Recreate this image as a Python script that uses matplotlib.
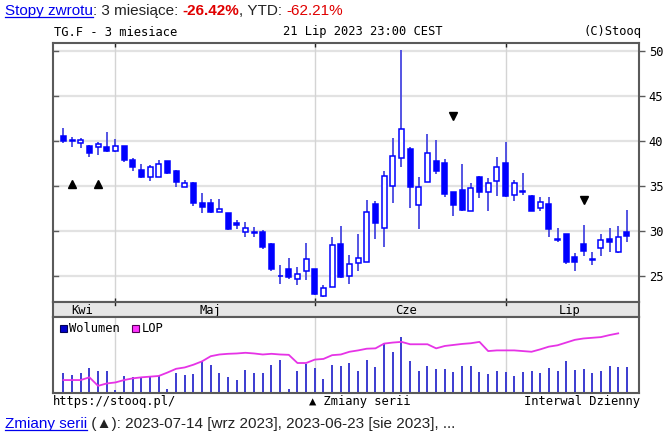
import numpy as np
import pandas as pd
import matplotlib
matplotlib.use("Agg")
import matplotlib.pyplot as plt
from matplotlib.patches import Rectangle
from matplotlib.lines import Line2D
import matplotlib.transforms as mtransforms

# ---------------- data ----------------
dates = pd.bdate_range("2023-04-21", "2023-07-21")

opens = [40.5, 40.1, 39.75, 39.45, 39.3, 39.3, 38.9, 39.45, 37.9, 36.8,
         36.05, 36.0, 37.75, 36.7, 34.95, 35.3, 33.1, 33.1, 32.1, 32.05,
         30.9, 29.95, 29.9, 29.9, 28.6, 25.1, 25.8, 24.7, 25.55, 25.8,
         22.85, 23.85, 28.6, 25.0, 26.5, 26.65, 33.05, 30.35, 35.0, 38.1,
         39.1, 32.95, 35.5, 37.8, 37.6, 34.3, 34.55, 32.3, 36.05, 34.3,
         35.6, 37.6, 34.0, 34.5, 33.9, 32.6, 33.05, 29.1, 29.7, 27.2,
         28.6, 26.95, 28.1, 29.2, 27.7, 29.95]
highs = [41.4, 40.4, 40.3, 39.5, 39.9, 40.95, 40.2, 39.45, 38.1, 37.5,
         37.35, 37.9, 37.75, 36.8, 35.7, 35.5, 34.2, 33.6, 33.6, 32.05,
         31.25, 31.0, 30.5, 30.15, 28.75, 26.25, 27.0, 26.0, 28.75, 25.8,
         24.05, 29.4, 30.6, 27.4, 29.7, 33.45, 33.3, 36.7, 40.3, 50.05,
         39.3, 36.05, 40.75, 40.1, 38.05, 34.4, 37.5, 35.4, 36.15, 35.85,
         38.2, 39.85, 35.7, 36.4, 34.0, 33.85, 33.85, 30.4, 29.7, 27.65,
         30.7, 27.75, 29.65, 30.35, 30.6, 32.4]
lows = [39.8, 39.3, 39.25, 38.2, 38.4, 38.8, 38.8, 37.7, 36.7, 35.95,
        35.6, 36.0, 36.35, 34.95, 34.85, 32.8, 32.05, 32.0, 32.1, 30.15,
        30.2, 29.35, 29.4, 28.05, 25.55, 24.15, 24.7, 24.0, 24.6, 22.95,
        22.75, 23.85, 24.8, 24.15, 25.55, 26.65, 29.1, 28.25, 33.15, 37.1,
        32.55, 30.2, 35.5, 36.35, 33.75, 31.7, 32.3, 32.2, 33.65, 32.3,
        33.95, 33.85, 33.3, 34.0, 32.3, 32.3, 29.4, 28.85, 26.4, 25.6,
        27.25, 26.25, 27.25, 27.7, 27.55, 28.8]
closes = [40.0, 40.05, 40.1, 38.65, 39.65, 38.85, 39.4, 37.9, 37.1, 36.05,
          37.15, 37.4, 36.4, 35.5, 35.4, 33.1, 32.65, 32.15, 32.45, 30.2,
          30.65, 30.35, 29.8, 28.25, 25.8, 25.0, 24.9, 25.3, 26.9, 23.05,
          23.7, 28.5, 24.9, 26.4, 27.0, 32.1, 30.95, 36.15, 38.35, 41.3,
          34.95, 34.95, 38.65, 36.7, 34.1, 32.9, 32.35, 34.75, 34.3, 35.4,
          37.1, 33.9, 35.4, 34.3, 32.3, 33.25, 30.2, 29.0, 26.65, 26.55,
          27.8, 26.85, 29.05, 28.8, 29.4, 29.5]
volume = [58, 53, 58, 73, 65, 65, 8, 50, 46, 46,
          48, 50, 13, 60, 53, 56, 95, 83, 58, 48,
          38, 68, 58, 58, 83, 98, 13, 65, 85, 72,
          41, 83, 80, 88, 64, 98, 75, 146, 121, 163,
          95, 65, 78, 71, 71, 61, 80, 78, 61, 55,
          65, 63, 50, 61, 65, 58, 73, 65, 95, 68,
          71, 58, 65, 80, 75, 75]
lop = [38, 38, 38, 46, 21, 28, 31, 38, 43, 46,
       48, 50, 60, 71, 75, 83, 93, 108, 113, 115,
       116, 118, 116, 113, 115, 113, 112, 88, 88, 98,
       100, 111, 113, 121, 125, 130, 131, 145, 148, 150,
       143, 143, 143, 131, 138, 141, 144, 146, 150, 123,
       125, 125, 125, 123, 121, 128, 136, 140, 148, 156,
       160, 162, 164, 170, 175, np.nan]
signal_up_idx = [1, 4]
signal_up_val = [35.25, 35.25]
signal_dn_idx = [45, 60]
signal_dn_val = [42.8, 33.5]
month_labels = {4: "Kwi", 5: "Maj", 6: "Cze", 7: "Lip"}
yticks = [25, 30, 35, 40, 45, 50]

# ---------------- figure ----------------
W, H = 671, 437
fig = plt.figure(figsize=(W / 100, H / 100), dpi=100)
fig.patch.set_facecolor("white")
MONO = "DejaVu Sans Mono"
FS = 8.7
FRAME = "#5a5a5a"
BLUE = "#0000ff"
WICK = "#4747e0"

def fx(x):
    return x / W

def fy(y):
    return 1 - y / H

x = np.arange(len(dates))
xlim = (-1.2, len(dates) + 0.4)
months = np.array([d.month for d in dates])
bounds = [i for i in range(1, len(dates)) if months[i] != months[i - 1]]

# main axes
ax = fig.add_axes([fx(53), fy(302), fx(639) - fx(53), fy(42.5) - fy(302)])
ax.set_xlim(*xlim)
ax.set_ylim(22.17, 50.9)
for v in yticks:
    ax.axhline(v, color="#e2e2e2", lw=1.6, zorder=0)
for b in bounds:
    ax.axvline(b, color="#d4d4d4", lw=1.0, zorder=0)

o = np.array(opens); c = np.array(closes)
h = np.array(highs); l = np.array(lows)
ax.vlines(x, l, h, color=WICK, lw=1.3, zorder=2)
up = c >= o
bw = 0.58
ax.bar(x[up], np.maximum(c[up] - o[up], 0.08), bottom=o[up], width=bw,
       facecolor="white", edgecolor=BLUE, lw=1.1, zorder=3)
ax.bar(x[~up], np.maximum(o[~up] - c[~up], 0.08), bottom=c[~up], width=bw,
       facecolor=BLUE, edgecolor=BLUE, lw=1.1, zorder=3)
ax.plot(signal_up_idx, signal_up_val, ls="none", marker="^", color="black", ms=6, zorder=4)
ax.plot(signal_dn_idx, signal_dn_val, ls="none", marker="v", color="black", ms=6, zorder=4)

ax.set_yticks(yticks)
ax.yaxis.tick_right()
ax.tick_params(axis="y", direction="out", length=4, width=1, color=FRAME,
               labelsize=FS, pad=3)
for lab in ax.get_yticklabels():
    lab.set_fontfamily(MONO)
ax.set_xticks(bounds)
ax.set_xticklabels([])
ax.tick_params(axis="x", direction="in", length=3, width=1, color="#222222",
               top=True, bottom=True)
trans = mtransforms.blended_transform_factory(ax.transAxes, ax.transData)
for v in yticks:
    ax.plot([0, 0.008], [v, v], transform=trans, color=FRAME, lw=1, zorder=5,
            clip_on=False)
for s in ax.spines.values():
    s.set_color(FRAME)
    s.set_linewidth(1.5)

# month band
axb = fig.add_axes([fx(53), fy(317), fx(639) - fx(53), fy(302) - fy(317)])
axb.set_xlim(*xlim)
axb.set_ylim(0, 1)
axb.set_facecolor("#e6e6e6")
axb.set_xticks([]); axb.set_yticks([])
edges = [xlim[0]] + [b - 0.5 for b in bounds] + [xlim[1]]
starts = [0] + bounds
for k, st in enumerate(starts):
    mid = (max(edges[k], xlim[0]) + edges[k + 1]) / 2
    axb.text(mid, 0.45, month_labels[dates[st].month], ha="center", va="center",
             fontsize=FS, fontfamily=MONO)
for b in bounds:
    axb.plot([b, b], [0.8, 1.0], color="#222222", lw=1)
for s in axb.spines.values():
    s.set_color(FRAME)
    s.set_linewidth(1.5)

# volume panel
axv = fig.add_axes([fx(53), fy(393), fx(639) - fx(53), fy(317) - fy(393)])
axv.set_xlim(*xlim)
axv.set_ylim(0, 223)
for b in bounds:
    axv.axvline(b, color="#d4d4d4", lw=1.0, zorder=0)
axv.vlines(x, 0, volume, color="#3b3bd0", lw=1.4, zorder=2)
axv.plot(x, lop, color="#e633e6", lw=1.3, zorder=3)
axv.set_xticks([]); axv.set_yticks([])
for s in axv.spines.values():
    s.set_color(FRAME)
    s.set_linewidth(1.5)

# legend in volume panel
fig.patches.append(Rectangle((fx(59.5), fy(331.5)), fx(7), fy(324.5) - fy(331.5),
                             transform=fig.transFigure, facecolor="#0000cc",
                             edgecolor="#000055", lw=0.8))
fig.text(fx(69), fy(328), "Wolumen", fontsize=FS, fontfamily=MONO, va="center")
fig.patches.append(Rectangle((fx(132), fy(331.5)), fx(7), fy(324.5) - fy(331.5),
                             transform=fig.transFigure, facecolor="#ff33ff",
                             edgecolor="#550055", lw=0.8))
fig.text(fx(142), fy(328), "LOP", fontsize=FS, fontfamily=MONO, va="center")

# header texts
fig.text(fx(53.5), fy(32), "TG.F - 3 miesiace", fontsize=FS, fontfamily=MONO, va="center")
fig.text(fx(283), fy(32), "21 Lip 2023 23:00 CEST", fontsize=FS, fontfamily=MONO, va="center")
fig.text(fx(641), fy(32), "(C)Stooq", fontsize=FS, fontfamily=MONO, va="center", ha="right")

# footer texts
fig.text(fx(53), fy(402), "https://stooq.pl/", fontsize=FS, fontfamily=MONO, va="center")
fig.text(fx(309), fy(402), "▲ Zmiany serii", fontsize=FS, fontfamily=MONO, va="center")
fig.text(fx(640), fy(402), "Interwal Dzienny", fontsize=FS, fontfamily=MONO, va="center", ha="right")

renderer = fig.canvas.get_renderer()
SANS = ["Liberation Sans", "DejaVu Sans"]

def seq_text(x0, y0, parts, size=11):
    xx = x0
    for s, kw in parts:
        underline = kw.pop("underline", False)
        t = fig.text(fx(xx), fy(y0), s, fontsize=size, family=SANS, va="baseline", **kw)
        bb = t.get_window_extent(renderer)
        if underline:
            fig.lines.append(Line2D([fx(xx), fx(xx + bb.width)], [fy(y0 + 2), fy(y0 + 2)],
                                    transform=fig.transFigure, color=kw.get("color", "k"), lw=0.9))
        xx += bb.width

LINK = "#0000ee"
RED = "#e00000"
seq_text(5, 15, [("Stopy zwrotu", dict(color=LINK, underline=True)),
                 (":\u00a03\u00a0miesiące:\u00a0", dict(color="#222222")),
                 ("-26.42%", dict(color=RED, fontweight="bold")),
                 (",\u00a0YTD:\u00a0", dict(color="#222222")),
                 ("-62.21%", dict(color=RED))])
seq_text(5, 428, [("Zmiany serii", dict(color=LINK, underline=True)),
                  ("\u00a0(▲): 2023-07-14 [wrz 2023], 2023-06-23 [sie 2023], ...",
                   dict(color="#222222"))])

fig.savefig("out.png", dpi=100, facecolor="white")
